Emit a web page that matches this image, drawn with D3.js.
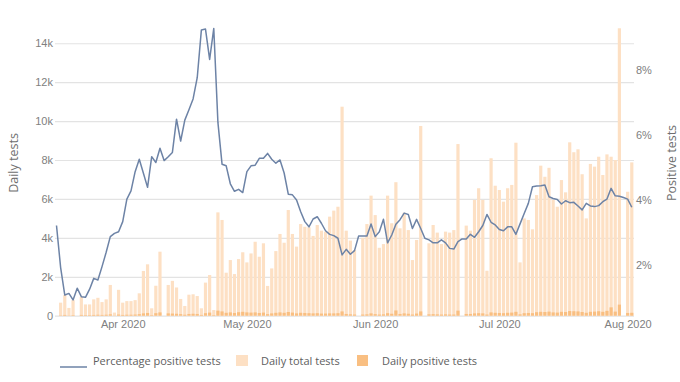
<!DOCTYPE html>
<html>
<head>
<meta charset="utf-8">
<script src="https://cdn.jsdelivr.net/npm/d3@7"></script>
<style>
  html, body { margin: 0; padding: 0; background: #fff; }
  svg { display: block; font-family: "Open Sans", "Noto Sans", sans-serif; }
</style>
</head>
<body>
<svg id="chart" width="680" height="382"></svg>
<script>
// ---------- data ----------
const startDate = "2020-03-16";
const endDate = "2020-08-02";

// Daily total tests (null = no report that day)
const totalTests = [
  null, 670, 1060, 400, 800, null, 960, 580, 580, 840,
  920, 700, 840, 1580, 160, 1330, 670, 750, 750, 800,
  1150, 2300, 2640, 380, 1540, 3290, null, 1580, 1790, 1450,
  860, 500, 1080, 1100, 1010, 380, 1700, 2090, 290, 5310,
  4920, 2210, 2860, 2140, 2910, 3260, 2740, 3200, 3800, 3030,
  3720, 1530, 2430, 3320, 4200, 3750, 5430, 4200, 3550, 4710,
  4570, 4540, 4100, 4660, 4370, 4320, 5090, 5400, 5600, 10740,
  4370, 3860, 3370, null, 4000, 4710, 6170, 5170, 3490, 3680,
  6170, 4750, 6860, 4490, 5290, 4400, 2860, 3890, 9750, null,
  3720, 4660, 4270, 3680, 4320, 4270, 4400, 8820, null, 4630,
  4370, 5950, 6550, 5950, 2310, 8090, 6680, 6460, 5860, 6550,
  6720, 8890, 2740, 5000, 4920, 4440, 6200, 7710, 7140, 7600,
  5950, 5600, 6970, 6340, 8910, 8400, 8550, 7270, 5000, 7800,
  7660, 8170, 7230, 8290, 8170, 8000, 14770, null, 6370, 7880
];

// Daily positive tests
const positiveTests = [
  null, 20, 40, 15, 30, null, 40, 30, 30, 40,
  50, 40, 50, 70, 10, 60, 40, 50, 50, 60,
  80, 120, 140, 30, 130, 170, null, 120, 110, 100,
  80, 50, 90, 100, 90, 40, 130, 160, 30, 260,
  220, 150, 170, 140, 180, 200, 170, 160, 170, 140,
  160, 80, 120, 150, 170, 150, 190, 160, 120, 150,
  140, 130, 120, 130, 110, 110, 120, 120, 130, 220,
  90, 70, 60, null, 60, 70, 120, 80, 60, 70,
  130, 100, 270, 90, 120, 100, 60, 110, 220, null,
  70, 80, 70, 60, 70, 60, 60, 260, null, 90,
  90, 120, 130, 120, 60, 170, 150, 140, 130, 150,
  160, 200, 70, 130, 140, 130, 180, 200, 190, 210,
  170, 160, 200, 190, 240, 230, 220, 190, 150, 200,
  210, 230, 200, 250, 430, 210, 570, null, 140, 150
];

// Percentage positive tests (rolling), in %
const pctPositive = [
  3.22, 1.93, 1.09, 1.14, 0.94, 1.30, 1.04, 1.02, 1.27, 1.60,
  1.55, 1.96, 2.40, 2.88, 2.98, 3.03, 3.34, 4.03, 4.28, 4.87,
  5.25, 4.82, 4.39, 5.33, 5.15, 5.59, 5.21, 5.33, 5.46, 6.48,
  5.81, 6.45, 6.77, 7.10, 7.75, 9.21, 9.24, 8.31, 9.26, 6.38,
  5.10, 5.05, 4.50, 4.27, 4.33, 4.23, 4.87, 5.05, 5.07, 5.28,
  5.28, 5.43, 5.25, 5.13, 5.23, 4.83, 4.18, 4.16, 4.00, 3.64,
  3.34, 3.18, 3.42, 3.49, 3.29, 3.06, 2.95, 2.91, 2.83, 2.32,
  2.49, 2.34, 2.45, 2.90, 2.90, 2.90, 3.27, 2.88, 3.03, 3.41,
  2.69, 2.93, 3.26, 3.40, 3.60, 3.56, 3.13, 3.41, 3.13, 2.83,
  2.78, 2.69, 2.69, 2.78, 2.69, 2.52, 2.50, 2.73, 2.81, 2.81,
  2.95, 2.86, 3.03, 3.22, 3.56, 3.32, 3.24, 3.10, 3.06, 3.18,
  3.18, 2.95, 3.27, 3.59, 3.90, 4.41, 4.43, 4.44, 4.46, 4.10,
  4.05, 4.02, 3.88, 3.98, 3.92, 3.93, 3.82, 3.70, 3.90, 3.82,
  3.80, 3.83, 3.95, 4.03, 4.36, 4.13, 4.12, 4.08, 4.03, 3.78
];

const leftTicks = [0, 2000, 4000, 6000, 8000, 10000, 12000, 14000];
const rightTicks = [2, 4, 6, 8];
const leftTitle = "Daily tests";
const rightTitle = "Positive tests";
const legendLabels = ["Percentage positive tests", "Daily total tests", "Daily positive tests"];

// ---------- build ----------
const parse = d3.utcParse("%Y-%m-%d");
const d0 = parse(startDate), d1 = parse(endDate);
const dates = d3.utcDay.range(d0, d3.utcDay.offset(d1, 1));
const rows = dates.map((d, i) => ({ date: d, total: totalTests[i], pos: positiveTests[i], pct: pctPositive[i] }));

const colLine = "#6d83a6";
const colTotal = "#fde0c4";
const colPos = "#f9bf82";
const colGrid = "#e3e3e3";
const colTick = "#808080";
const colTitle = "#6e6e6e";
const colLegend = "#5e5e5e";

const svg = d3.select("#chart");
const plotL = 55, plotR = 634, yBottom = 315.7, yTop = 22;

const x = d3.scaleUtc().domain([d0, d1]).range([56.5, 631.8]);
const yL = d3.scaleLinear().domain([0, (yBottom - yTop) / 19.46 * 1000]).range([yBottom, yTop]);
const yR = d3.scaleLinear().domain([(330.6 - yBottom) / 32.63, (330.6 - yTop) / 32.63]).range([yBottom, yTop]);
const barW = 3.2;

// gridlines + left axis
const gL = svg.append("g").attr("transform", `translate(${plotL},0)`)
  .call(d3.axisLeft(yL).tickValues(leftTicks).tickFormat(d3.format("~s"))
    .tickSizeInner(-(plotR - plotL)).tickSizeOuter(0).tickPadding(2));
gL.select(".domain").remove();
gL.selectAll(".tick line").attr("stroke", colGrid).attr("stroke-width", 1.2);
gL.selectAll(".tick text").attr("fill", colTick).attr("font-size", 11);

// bars
svg.append("g").selectAll("rect.total").data(rows.filter(r => r.total != null)).join("rect")
  .attr("x", d => x(d.date) - barW / 2).attr("width", barW)
  .attr("y", d => yL(d.total)).attr("height", d => yL(0) - yL(d.total))
  .attr("fill", colTotal);
svg.append("g").selectAll("rect.pos").data(rows.filter(r => r.pos != null)).join("rect")
  .attr("x", d => x(d.date) - barW / 2).attr("width", barW)
  .attr("y", d => yL(d.pos)).attr("height", d => yL(0) - yL(d.pos))
  .attr("fill", colPos);

// line
svg.append("path").datum(rows)
  .attr("fill", "none").attr("stroke", colLine).attr("stroke-width", 1.5)
  .attr("stroke-linejoin", "round")
  .attr("d", d3.line().x(d => x(d.date)).y(d => yR(d.pct)));

// x axis
const gX = svg.append("g").attr("transform", `translate(0,${yBottom})`)
  .call(d3.axisBottom(x).ticks(d3.utcMonth.every(1)).tickFormat(d3.utcFormat("%b %Y"))
    .tickSize(0).tickPadding(5));
gX.select(".domain").remove();
gX.selectAll(".tick text").attr("fill", colTick).attr("font-size", 11);

// right axis
const gR = svg.append("g").attr("transform", `translate(${plotR},0)`)
  .call(d3.axisRight(yR).tickValues(rightTicks).tickFormat(d => d + "%").tickSize(0).tickPadding(2));
gR.select(".domain").remove();
gR.selectAll(".tick text").attr("fill", colTick).attr("font-size", 11);

// axis titles
svg.append("text").attr("transform", "translate(13,163) rotate(-90)")
  .attr("text-anchor", "middle").attr("dominant-baseline", "central")
  .attr("fill", colTitle).attr("font-size", 12.5).text(leftTitle);
svg.append("text").attr("transform", "translate(671,163) rotate(-90)")
  .attr("text-anchor", "middle").attr("dominant-baseline", "central")
  .attr("fill", colTitle).attr("font-size", 12.5).text(rightTitle);

// legend
const lg = svg.append("g").attr("font-size", 11).attr("fill", colLegend);
lg.append("line").attr("x1", 60).attr("x2", 87).attr("y1", 367).attr("y2", 367)
  .attr("stroke", colLine).attr("stroke-width", 1.5);
lg.append("text").attr("x", 93).attr("y", 360).attr("dominant-baseline", "central").text(legendLabels[0]);
lg.append("rect").attr("x", 236).attr("y", 355).attr("width", 12).attr("height", 11).attr("fill", colTotal);
lg.append("text").attr("x", 261).attr("y", 360).attr("dominant-baseline", "central").text(legendLabels[1]);
lg.append("rect").attr("x", 357).attr("y", 355).attr("width", 11).attr("height", 11).attr("fill", colPos);
lg.append("text").attr("x", 382).attr("y", 360).attr("dominant-baseline", "central").text(legendLabels[2]);
</script>
</body>
</html>
